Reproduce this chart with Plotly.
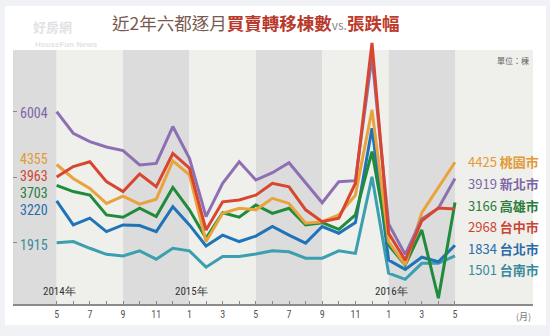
import plotly.graph_objects as go

months = ["2014-05","2014-06","2014-07","2014-08","2014-09","2014-10","2014-11","2014-12",
          "2015-01","2015-02","2015-03","2015-04","2015-05","2015-06","2015-07","2015-08",
          "2015-09","2015-10","2015-11","2015-12","2016-01","2016-02","2016-03","2016-04","2016-05"]
month_ticks = ["5","","7","","9","","11","","1","","3","","5","","7","","9","","11","","1","","3","","5"]

xinyi = [6004,5330,5070,4900,4790,4340,4390,5540,4550,2730,3770,4440,3870,4100,4410,3790,3160,3820,3850,7720,2500,1550,2650,2990,3919]
taoyuan = [4355,3920,3610,3140,3370,3120,3270,4470,4030,1950,2830,2990,2940,3300,3140,2520,2570,2780,3400,6060,1950,1220,2850,3620,4425]
taichung = [3963,4290,4440,3820,3510,4060,3660,4700,4240,2310,3190,3250,3400,3770,3660,2940,2570,2680,3770,8150,2210,1370,2600,3000,2968]
kaohsiung = [3703,3510,3400,2780,2710,2990,2730,3640,2940,2050,2850,2710,3090,2830,2990,2470,2540,2330,2780,4760,1840,1220,2310,180,3166]
taipei = [3220,2470,2680,2260,2470,2450,2260,3040,2470,1810,2150,1950,2120,2420,2150,1900,2420,2210,2540,5490,1370,1080,1460,1320,1834]
tainan = [1915,1950,1740,1550,1500,1660,1400,1740,1660,1150,1480,1480,1560,1660,1630,1430,1430,1660,1580,3970,960,770,1270,1270,1501]

names = ["新北市","桃園市","台中市","高雄市","台北市","台南市"]
series = [xinyi, taoyuan, taichung, kaohsiung, taipei, tainan]
line_colors = ["#8d70b4","#e9a33c","#d8462f","#1f8b3b","#1f74b8","#3b9fb0"]
text_colors = ["#7c66a6","#e39a35","#cc4535","#2a7d3c","#2a6ca9","#3a8b9b"]

# right-side legend order (top to bottom)
right_order = [1, 0, 3, 2, 4, 5]
# left-side label order (top to bottom)
left_order = [0, 1, 2, 3, 4, 5]

years = ["2014年","2015年","2016年"]
year_pos = [0, 8, 20]

PXU = 0.03203  # px per unit
def px_to_val(dy):
    return dy / PXU

def px(xp, yp):
    return (xp - 13) / 520, (304 - yp) / 264

fig = go.Figure()

# bands
band_top = px_to_val(304 - 50)
band_edges = [-2.7, 0, 4, 8, 12, 16, 20, 24, 28.9]
for k in range(len(band_edges) - 1):
    fig.add_shape(type="rect", xref="x", yref="y", x0=band_edges[k], x1=band_edges[k+1],
                  y0=0, y1=band_top, line_width=0,
                  fillcolor="#dcdcdc" if k % 2 == 0 else "#efefeb", layer="below")

# white card
fig.add_shape(type="rect", xref="paper", yref="paper",
              x0=(5-13)/520, x1=(546-13)/520, y0=(304-325)/264, y1=(304-6)/264,
              fillcolor="white", line_width=0, layer="below")

draw_order = [5, 4, 3, 1, 0, 2]
for i in draw_order:
    fig.add_trace(go.Scatter(x=months, y=series[i], mode="lines", name=names[i],
                             line=dict(color=line_colors[i], width=3), showlegend=False,
                             hoverinfo="skip"))

narrow = "Liberation Sans Narrow, Arial Narrow, Roboto Condensed, Liberation Sans, sans-serif"
cjk = "Noto Sans CJK TC, Noto Sans CJK SC, sans-serif"

# left labels (start values)
left_y_px = [113, 158.5, 175.5, 192.5, 210, 245]
for k, i in enumerate(left_order):
    fig.add_annotation(x=-0.38, y=px_to_val(304 - left_y_px[k]), xref="x", yref="y",
                       text=str(series[i][0]), showarrow=False, xanchor="right", yanchor="middle",
                       font=dict(family=narrow, size=14, color=text_colors[i]))

# right labels (end values)
right_y_px = [161.5, 183, 205, 226.5, 248.5, 269.5]
for k, i in enumerate(right_order):
    ax, ay = px(466, right_y_px[k])
    fig.add_annotation(x=ax, y=ay, xref="paper", yref="paper",
                       text=f"{series[i][-1]} <b>{names[i]}</b>", showarrow=False,
                       xanchor="left", yanchor="middle",
                       font=dict(family=cjk, size=13, color=text_colors[i]))

# year labels
for yl, xp in zip(years, year_pos):
    fig.add_annotation(x=xp + 0.15, y=0, xref="x", yref="paper", text=yl, showarrow=False,
                       xanchor="center", yanchor="bottom", yshift=4,
                       font=dict(family=narrow, size=11, color="#333333"))

# unit label
ax, ay = px(531, 60)
fig.add_annotation(x=ax, y=ay, xref="paper", yref="paper", text="單位：棟",
                   showarrow=False, xanchor="right", yanchor="middle",
                   font=dict(family=cjk, size=8, color="#666666"))

# (月)
ax, ay = px(523, 316)
fig.add_annotation(x=ax, y=ay, xref="paper", yref="paper", text="(月)",
                   showarrow=False, xanchor="center", yanchor="middle",
                   font=dict(family=cjk, size=9, color="#777777"))

# title
title_html = ('<span style="color:#7a5a50">近2年六都逐月</span>'
              '<b><span style="color:#b8392c">買賣轉移棟數</span></b>'
              '<span style="color:#888888;font-size:12px">vs.</span>'
              '<b><span style="color:#c03a2c">張跌幅</span></b>')
ax, ay = px(255, 23)
fig.add_annotation(x=ax, y=ay, xref="paper", yref="paper", text=title_html,
                   showarrow=False, xanchor="center", yanchor="middle",
                   font=dict(family=cjk, size=17.5, color="#7a5a50"))

# watermark
ax, ay = px(52, 27)
fig.add_annotation(x=ax, y=ay, xref="paper", yref="paper", text="<b>好房網</b>",
                   showarrow=False, xanchor="center", yanchor="middle",
                   font=dict(family=cjk, size=13, color="rgba(218,218,224,0.8)"))
ax, ay = px(66, 44)
fig.add_annotation(x=ax, y=ay, xref="paper", yref="paper", text="<b>HouseFun News</b>",
                   showarrow=False, xanchor="center", yanchor="middle",
                   font=dict(family="Liberation Sans, sans-serif", size=8, color="rgba(218,218,224,0.8)"))

fig.update_layout(
    width=550, height=336,
    margin=dict(l=13, r=17, t=40, b=32),
    paper_bgcolor="#f1f2f5", plot_bgcolor="rgba(0,0,0,0)",
    xaxis=dict(type="category", range=[-2.63, 28.7], tickmode="array",
               tickvals=months, ticktext=month_ticks, ticks="inside", ticklen=3,
               tickcolor="#888888", showline=True, linecolor="#8a8a8a", linewidth=1.5,
               showgrid=False, zeroline=False,
               tickfont=dict(family=narrow, size=10, color="#555555")),
    yaxis=dict(range=[0, px_to_val(264)], showgrid=False, zeroline=False,
               tickmode="array", tickvals=[6004, 3963, 1915], ticktext=["", "", ""],
               ticks="inside", ticklen=4, tickcolor="#888888", showline=False),
)

fig.write_html("out.html")
